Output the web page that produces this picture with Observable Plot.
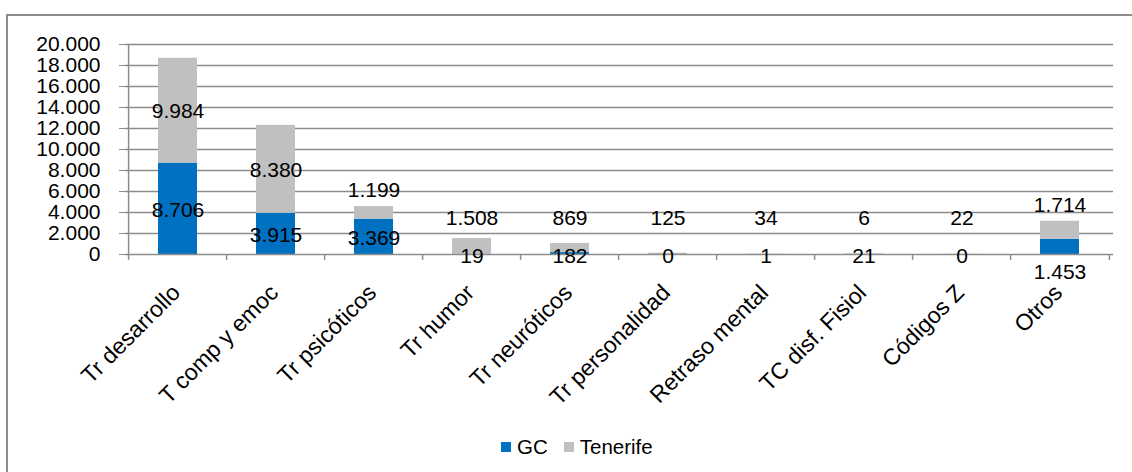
<!DOCTYPE html>
<html>
<head>
<meta charset="utf-8">
<script src="https://cdn.jsdelivr.net/npm/d3@7"></script>
<script src="https://cdn.jsdelivr.net/npm/@observablehq/plot@0.6"></script>
<style>
html, body { margin: 0; padding: 0; background: #fff; overflow: hidden; width: 1132px; height: 472px; font-family: "Liberation Sans", Arial, sans-serif; }
#frame { position: absolute; left: 6px; top: 14px; width: 1200px; height: 600px; border-left: 2px solid #8c8c8c; border-top: 2px solid #8c8c8c; }
#chart { position: absolute; left: 0; top: 0; }
#legend { position: absolute; left: 501px; top: 434px; height: 26px; display: flex; align-items: center; font-size: 20.5px; color: #000; white-space: nowrap; }
#legend .sw { display: inline-block; width: 10px; height: 10px; margin-right: 6px; }
#legend .item { display: flex; align-items: center; margin-right: 16px; }
</style>
</head>
<body>
<div id="frame"></div>
<div id="chart"></div>
<div id="legend"></div>
<script>
const categories = ["Tr desarrollo", "T comp y emoc", "Tr psicóticos", "Tr humor", "Tr neuróticos", "Tr personalidad", "Retraso mental", "TC disf. Fisiol", "Códigos Z", "Otros"];
const gcValues = [8706, 3915, 3369, 19, 182, 0, 1, 21, 0, 1453];
const tenerifeValues = [9984, 8380, 1199, 1508, 869, 125, 34, 6, 22, 1714];
const seriesNames = ["GC", "Tenerife"];
const seriesColors = ["#0070C0", "#C0C0C0"];
const yTicks = [0, 2000, 4000, 6000, 8000, 10000, 12000, 14000, 16000, 18000, 20000];

const fmt = d3.formatLocale({decimal: ",", thousands: ".", grouping: [3], currency: ["", " €"]}).format(",d");

const W = 1132, H = 430, mL = 125, mR = 19, mT = 44, mB = H - 254;
const step = (W - mL - mR) / categories.length;
const gridColor = "#8c8c8c";

const rows = [];
categories.forEach((c, i) => {
  rows.push({cat: c, series: seriesNames[0], value: gcValues[i]});
  rows.push({cat: c, series: seriesNames[1], value: tenerifeValues[i]});
});

// label placement rules
const centered = [], atAxis = [], belowAxis = [], aboveSmall = [];
categories.forEach((c, i) => {
  const g = gcValues[i], t = tenerifeValues[i];
  if (g >= 2000) centered.push({cat: c, y: g / 2, text: fmt(g)});
  else if (g >= 1000) belowAxis.push({cat: c, y: 0, text: fmt(g)});
  else atAxis.push({cat: c, y: 0, text: fmt(g)});
  if (t >= 2000) centered.push({cat: c, y: g + t / 2, text: fmt(t)});
  else aboveSmall.push({cat: c, y: Math.max(g + t + 1600, 3500), text: fmt(t)});
});

const chart = Plot.plot({
  width: W, height: H,
  marginLeft: mL, marginRight: mR, marginTop: mT, marginBottom: mB,
  style: {fontFamily: "'Liberation Sans', Arial, sans-serif", fontSize: "21px", color: "#000", background: "transparent"},
  x: {type: "band", domain: categories, paddingInner: 0.6, paddingOuter: 0.3, axis: null},
  y: {domain: [0, 20000]},
  color: {domain: seriesNames, range: seriesColors},
  marks: [
    Plot.ruleY(yTicks.filter(d => d > 0), {stroke: gridColor, strokeWidth: 1.5}),
    Plot.barY(rows, {x: "cat", y: "value", fill: "series", order: seriesNames}),
    Plot.ruleY([0], {stroke: gridColor, strokeWidth: 1.5}),
    Plot.ruleX([categories[0]], {x: d => d, dx: -step / 2, y1: 0, y2: 20000, stroke: gridColor, strokeWidth: 1.5}),
    Plot.ruleX(categories, {x: d => d, dx: -step / 2, y1: 0, y2: -550, stroke: gridColor, strokeWidth: 1.5}),
    Plot.ruleX([categories[categories.length - 1]], {x: d => d, dx: step / 2, y1: 0, y2: -550, stroke: gridColor, strokeWidth: 1.5}),
    Plot.axisY({ticks: yTicks, tickFormat: fmt, tickSize: 6, tickPadding: 19, label: null, stroke: gridColor, fontSize: 21, fill: "#000"}),
    Plot.text(centered, {x: "cat", y: "y", text: "text", dy: 1, fontSize: 21, fill: "#000"}),
    Plot.text(atAxis, {x: "cat", y: "y", text: "text", dy: 2, fontSize: 21, fill: "#000"}),
    Plot.text(belowAxis, {x: "cat", y: "y", text: "text", dy: 18, fontSize: 21, fill: "#000"}),
    Plot.text(aboveSmall, {x: "cat", y: "y", text: "text", dy: 1, fontSize: 21, fill: "#000"}),
    Plot.text(categories, {x: d => d, frameAnchor: "bottom", rotate: -45, textAnchor: "end", lineAnchor: "top", dx: -8, dy: 28, fontSize: 23, fill: "#000"})
  ]
});
document.getElementById("chart").appendChild(chart);

const legend = document.getElementById("legend");
seriesNames.forEach((s, i) => {
  const item = document.createElement("span");
  item.className = "item";
  const sw = document.createElement("span");
  sw.className = "sw";
  sw.style.background = seriesColors[i];
  item.appendChild(sw);
  item.appendChild(document.createTextNode(s));
  legend.appendChild(item);
});
</script>
</body>
</html>
